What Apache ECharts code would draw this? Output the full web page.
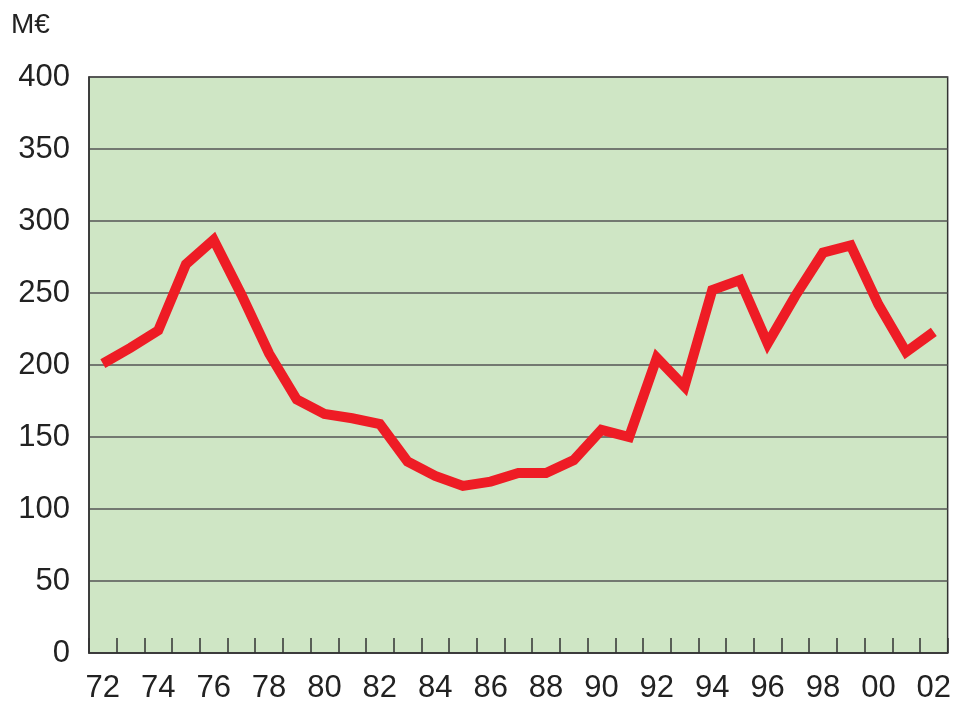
<!DOCTYPE html>
<html>
<head>
<meta charset="utf-8">
<script src="https://cdn.jsdelivr.net/npm/echarts@6/dist/echarts.min.js"></script>
<style>
  html, body { margin: 0; padding: 0; background: #fff; }
  #chart { width: 954px; height: 704px; }
</style>
</head>
<body>
<div id="chart"></div>
<script>
var years = ['72','73','74','75','76','77','78','79','80','81','82','83','84','85','86','87',
             '88','89','90','91','92','93','94','95','96','97','98','99','00','01','02'];
var values = [201, 212, 224, 270, 287, 249, 208, 176, 166, 163, 159, 133, 123, 116, 119, 125,
              125, 134, 155, 150, 205, 185, 252, 259, 215, 248, 278, 283, 242, 209, 223];

var myChart = echarts.init(document.getElementById('chart'));
var option = {
    animation: false,
    grid: {
        left: 89, right: 3, top: 77, bottom: 48,
        show: true, backgroundColor: '#cfe6c5', borderColor: '#333', borderWidth: 1.5
    },
    xAxis: {
        type: 'category', data: years, boundaryGap: true,
        axisLine: {lineStyle: {color: '#333', width: 1.5}},
        axisTick: {show: true, inside: true, length: 15, interval: 0, alignWithLabel: false,
                   lineStyle: {color: '#333', width: 1.5}},
        axisLabel: {interval: 1, color: '#222', fontSize: 31, margin: 20, fontFamily: 'Liberation Sans'}
    },
    yAxis: {
        type: 'value', min: 0, max: 400, interval: 50,
        name: 'M€', nameLocation: 'end', nameGap: 38,
        nameTextStyle: {color: '#222', fontSize: 28, align: 'left', padding: [0, 0, 0, -78], fontFamily: 'Liberation Sans'},
        axisLine: {show: true, lineStyle: {color: '#333', width: 1.5}},
        axisTick: {show: false},
        axisLabel: {color: '#222', fontSize: 31, margin: 19, fontFamily: 'Liberation Sans'},
        splitLine: {lineStyle: {color: '#555', width: 1.5}}
    },
    series: [{
        type: 'line', data: values, symbol: 'none',
        lineStyle: {color: '#ee1c25', width: 10, join: 'miter'}
    }]
};
myChart.setOption(option);
</script>
</body>
</html>
